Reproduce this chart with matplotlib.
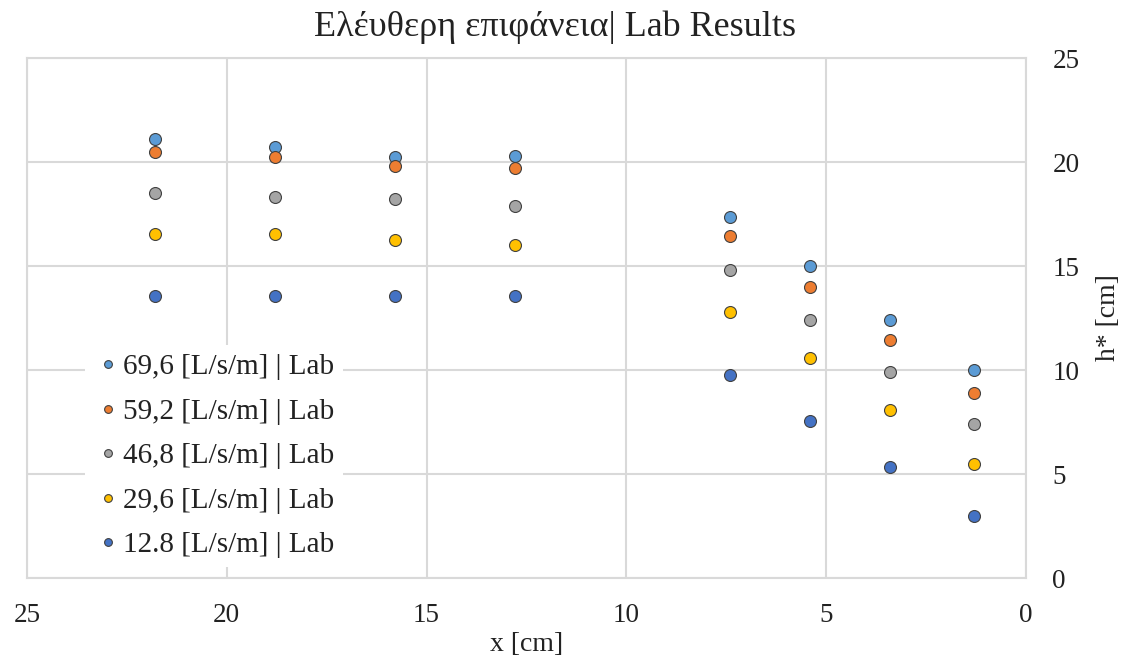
import matplotlib
matplotlib.use("Agg")
import matplotlib.pyplot as plt

plt.rcParams['font.family'] = ['Liberation Serif', 'DejaVu Serif']

x = [21.8, 18.8, 15.8, 12.8, 7.4, 5.4, 3.4, 1.3]
labels = ["69,6 [L/s/m] | Lab", "59,2 [L/s/m] | Lab", "46,8 [L/s/m] | Lab",
          "29,6 [L/s/m] | Lab", "12.8 [L/s/m] | Lab"]
h_696 = [21.1, 20.7, 20.25, 20.3, 17.35, 15.0, 12.4, 10.0]
h_592 = [20.5, 20.25, 19.8, 19.7, 16.45, 14.0, 11.45, 8.9]
h_468 = [18.5, 18.3, 18.2, 17.9, 14.8, 12.4, 9.9, 7.4]
h_296 = [16.55, 16.55, 16.25, 16.0, 12.8, 10.6, 8.1, 5.5]
h_128 = [13.55, 13.55, 13.55, 13.55, 9.75, 7.55, 5.35, 3.0]
series = [h_696, h_592, h_468, h_296, h_128]
colors = ["#5B9BD5", "#ED7D31", "#A5A5A5", "#FFC000", "#4472C4"]

fig = plt.figure(figsize=(11.29, 6.61), dpi=100)
ax = fig.add_axes([27/1129, 1-578/661, 999/1129, 520/661])

for ys, c, lab in zip(series, colors, labels):
    ax.plot(x, ys, linestyle='none', marker='o', markersize=8.6,
            markerfacecolor=c, markeredgecolor='#404040', markeredgewidth=0.8,
            label=lab, zorder=3)

ax.set_xlim(25, 0)
ax.set_ylim(0, 25)
ax.set_xticks([25, 20, 15, 10, 5, 0])
ax.set_yticks([0, 5, 10, 15, 20, 25])
ax.grid(True, color='#D9D9D9', linewidth=1.5, zorder=0)
ax.set_axisbelow(True)
for s in ax.spines.values():
    s.set_color('#D9D9D9')
    s.set_linewidth(1.5)
ax.yaxis.tick_right()
ax.yaxis.set_label_position('right')
ax.tick_params(axis='both', length=0, labelsize=19.5, colors='#222222')
ax.tick_params(axis='x', pad=18)
ax.tick_params(axis='y', pad=19)

ax.set_xlabel("x [cm]", fontsize=20, color='#222222', labelpad=3)
ax.set_ylabel("h* [cm]", fontsize=20, color='#222222', labelpad=12)
fig.text(555/1129, 1-27/661, "Ελέυθερη επιφάνεια| Lab Results", fontsize=26,
         ha='center', va='center', color='#222222')

leg = ax.legend(loc='lower left', bbox_to_anchor=(0.058, 0.021), borderaxespad=0,
                frameon=True, facecolor='white', edgecolor='none', framealpha=1,
                fontsize=21, markerscale=0.65, handletextpad=0.0, handlelength=1.0,
                labelspacing=0.62, borderpad=0.3)
leg.get_frame().set_linewidth(0)
for t in leg.get_texts():
    t.set_color('#222222')

fig.savefig("out.png", dpi=100)
